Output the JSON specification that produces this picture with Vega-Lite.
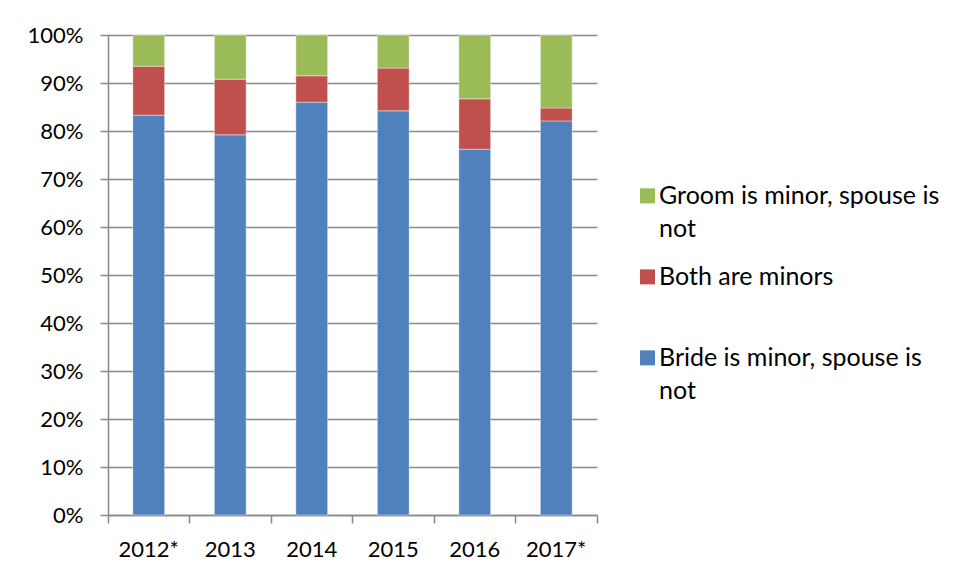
{
  "$schema": "https://vega.github.io/schema/vega-lite/v6.json",
  "width": 489,
  "height": 480,
  "autosize": {"type": "none"},
  "padding": {"left": 108, "top": 35, "right": 359, "bottom": 62},
  "background": "white",
  "config": {
    "font": "Lato",
    "view": {"stroke": null},
    "style": {"guide-label": {"lineHeight": 33}},
    "axis": {"labelFont": "Lato", "labelFontSize": 22, "labelColor": "#000000", "domainColor": "#898989", "tickColor": "#898989", "gridColor": "#898989", "domainWidth": 1.5, "tickWidth": 1.5, "gridWidth": 1.5},
    "legend": {"labelFont": "Lato", "labelFontSize": 25, "labelColor": "#000000"}
  },
  "data": {
    "values": [
      {"year": "2012*", "cat": "Bride is minor, spouse is not", "v": 83.3, "o": 1},
      {"year": "2012*", "cat": "Both are minors", "v": 10.2, "o": 2},
      {"year": "2012*", "cat": "Groom is minor, spouse is not", "v": 6.5, "o": 3},
      {"year": "2013", "cat": "Bride is minor, spouse is not", "v": 79.2, "o": 1},
      {"year": "2013", "cat": "Both are minors", "v": 11.6, "o": 2},
      {"year": "2013", "cat": "Groom is minor, spouse is not", "v": 9.2, "o": 3},
      {"year": "2014", "cat": "Bride is minor, spouse is not", "v": 86.0, "o": 1},
      {"year": "2014", "cat": "Both are minors", "v": 5.5, "o": 2},
      {"year": "2014", "cat": "Groom is minor, spouse is not", "v": 8.5, "o": 3},
      {"year": "2015", "cat": "Bride is minor, spouse is not", "v": 84.2, "o": 1},
      {"year": "2015", "cat": "Both are minors", "v": 8.9, "o": 2},
      {"year": "2015", "cat": "Groom is minor, spouse is not", "v": 6.9, "o": 3},
      {"year": "2016", "cat": "Bride is minor, spouse is not", "v": 76.2, "o": 1},
      {"year": "2016", "cat": "Both are minors", "v": 10.5, "o": 2},
      {"year": "2016", "cat": "Groom is minor, spouse is not", "v": 13.3, "o": 3},
      {"year": "2017*", "cat": "Bride is minor, spouse is not", "v": 82.1, "o": 1},
      {"year": "2017*", "cat": "Both are minors", "v": 2.7, "o": 2},
      {"year": "2017*", "cat": "Groom is minor, spouse is not", "v": 15.2, "o": 3}
    ]
  },
  "mark": {"type": "bar", "width": {"band": 0.39}, "stroke": "#ffffff", "strokeOpacity": 0.5, "strokeWidth": 0.8},
  "encoding": {
    "x": {
      "field": "year", "type": "nominal", "sort": null,
      "scale": {"paddingInner": 0, "paddingOuter": 0},
      "axis": {"title": null, "labelAngle": 0, "bandPosition": 1, "tickExtra": true, "labelOffset": 0, "tickSize": 8, "labelPadding": 16, "grid": false}
    },
    "y": {
      "field": "v", "type": "quantitative", "stack": "zero",
      "scale": {"domain": [0, 100]},
      "axis": {"title": null, "values": [0,10,20,30,40,50,60,70,80,90,100], "labelExpr": "datum.value + '%'", "tickSize": 8, "labelPadding": 17, "grid": true}
    },
    "order": {"field": "o", "type": "quantitative"},
    "color": {
      "field": "cat", "type": "nominal",
      "scale": {"domain": ["Groom is minor, spouse is not", "Both are minors", "Bride is minor, spouse is not"], "range": ["#9BBB59", "#C0504D", "#4F81BD"]},
      "legend": {
        "title": null, "orient": "none", "legendX": 527, "legendY": 136,
        "symbolType": "M-1,0.65H1V2.65H-1Z", "symbolSize": 225, "symbolStrokeWidth": 0,
        "labelExpr": "datum.label == 'Both are minors' ? [datum.label, ' '] : [replace(datum.label, ' not', ''), 'not']",
        "labelLimit": 400, "rowPadding": 10, "labelOffset": -1, "labelBaseline": "top"
      }
    }
  }
}
